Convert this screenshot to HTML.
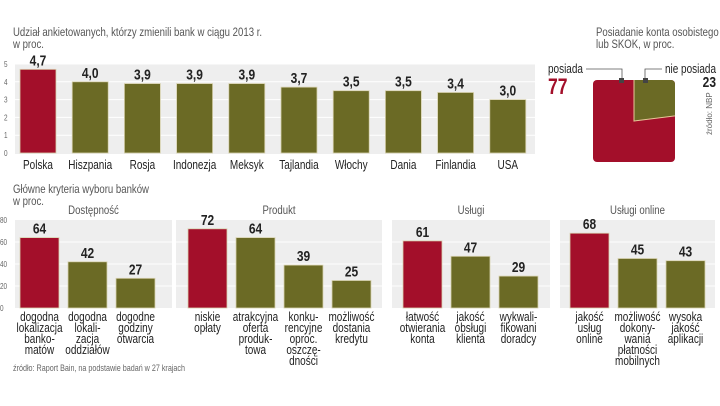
<!DOCTYPE html>
<html><head><meta charset="utf-8"><style>
body{margin:0;background:#fff;width:720px;height:406px;overflow:hidden}
svg{display:block}
text{font-family:"Liberation Sans Narrow","Liberation Sans",sans-serif}
.t{fill:#555;font-size:12px}
.tick{fill:#666;font-size:8px}
.cat{fill:#222;font-size:12.5px}
.val{fill:#222;font-size:15px;font-weight:bold}
</style></head><body>
<svg id="c" width="720" height="406">
<text class="t" x="13" y="36">Udział ankietowanych, którzy zmienili bank w ciągu 2013 r.</text>
<text class="t" x="13" y="48">w proc.</text>
<text class="t" x="596" y="36">Posiadanie konta osobistego w banku</text>
<text class="t" x="596" y="48">lub SKOK, w proc.</text>
<text class="t" x="13" y="193">Główne kryteria wyboru banków</text>
<text class="t" x="13" y="205">w proc.</text>
<text x="13" y="371" style="fill:#666;font-size:9px">źródło: Raport Bain, na podstawie badań w 27 krajach</text>
<text x="712" y="135" transform="rotate(-90 712 135)" style="fill:#666;font-size:8px" class="norot">źródło: NBP</text>
<g id="top"></g><g id="pie"></g><g id="bottom"></g>
</svg>
<script>
const ns='http://www.w3.org/2000/svg';
const RED='#a30f2a',OLIVE='#6b6a25';
function mk(p,tag,a,txt){const e=document.createElementNS(ns,tag);for(const k in a)e.setAttribute(k,a[k]);if(txt!=null)e.textContent=txt;p.appendChild(e);return e;}

const countries=['Polska','Hiszpania','Rosja','Indonezja','Meksyk','Tajlandia','Włochy','Dania','Finlandia','USA'];
const switchRates=[4.7,4.0,3.9,3.9,3.9,3.7,3.5,3.5,3.4,3.0];
const topTicks=[0,1,2,3,4,5];

const pieOwn=77;
const pieNotOwn=23;

const groupTitles=['Dostępność','Produkt','Usługi','Usługi online'];
const groupCats=[
 [['dogodna','lokalizacja','banko-','matów'],['dogodna','lokali-','zacja','oddziałów'],['dogodne','godziny','otwarcia']],
 [['niskie','opłaty'],['atrakcyjna','oferta','produk-','towa'],['konku-','rencyjne','oproc.','oszczę-','dności'],['możliwość','dostania','kredytu']],
 [['łatwość','otwierania','konta'],['jakość','obsługi','klienta'],['wykwali-','fikowani','doradcy']],
 [['jakość','usług','online'],['możliwość','dokony-','wania','płatności','mobilnych'],['wysoka','jakość','aplikacji']]
];
const groupVals=[[64,42,27],[72,64,39,25],[61,47,29],[68,45,43]];
const bottomTicks=[0,20,40,60,80];

// top chart
(function(){
 const g=document.getElementById('top');
 const y0=153,y1=64,ymax=5;const y=v=>y0-(v/ymax)*(y0-y1);
 const x=i=>20+i*52.2;
 const bg=mk(g,'rect',{x:15,y:64,width:520,height:90,fill:'#eeeeee'});
 
 topTicks.forEach(t=>{
  if(t>0){const l=mk(g,'line',{x1:15,x2:535,y1:y(t),y2:y(t),stroke:'#fff','stroke-width':1});
  }
  const tx=mk(g,'text',{x:4,y:y(t)+3,class:'tick'},t);
  
 });
 switchRates.forEach((v,i)=>{
  const r=mk(g,'rect',{x:x(i),y:y(v),width:36,height:y0-y(v),fill:i===0?RED:OLIVE,stroke:'#d8d2b0','stroke-width':0.8});
  
  const vt=mk(g,'text',{x:x(i)+18,y:y(v)-4,class:'val','text-anchor':'middle'},v.toFixed(1).replace('.',','));
  
  const ct=mk(g,'text',{x:x(i)+18,y:169,class:'cat','text-anchor':'middle'},countries[i]);
  
 });
})();

// pie
(function(){
 const g=document.getElementById('pie');
 const X=593,Y=80,S=82,cx=X+S/2,cy=Y+S/2;
 const cp=mk(g,'clipPath',{id:'pc'});mk(cp,'rect',{x:X,y:Y,width:S,height:S,rx:4});
 const b=mk(g,'rect',{x:X,y:Y,width:S,height:S,rx:4,fill:RED});
 
 const a=pieNotOwn/(pieOwn+pieNotOwn)*2*Math.PI,R=100;
 const ex=cx+R*Math.sin(a),ey=cy-R*Math.cos(a);
 const p=mk(g,'path',{d:`M${cx},${cy}L${cx},${cy-R}A${R},${R} 0 ${a>Math.PI?1:0} 1 ${ex},${ey}Z`,fill:OLIVE,stroke:'#e8c89a','stroke-width':1,'clip-path':'url(#pc)'});
 
 mk(g,'path',{d:`M586,69H622V80`,fill:'none',stroke:'#555','stroke-width':0.8});
 mk(g,'path',{d:`M662,69H645V80`,fill:'none',stroke:'#555','stroke-width':0.8});
 mk(g,'rect',{x:619,y:78,width:5,height:5,fill:'#444'});
 mk(g,'rect',{x:643,y:78,width:5,height:5,fill:'#444'});
 const t1=mk(g,'text',{x:548,y:73,class:'cat'},'posiada');
 const v1=mk(g,'text',{x:548,y:94,style:'fill:'+RED+';font-size:22px;font-weight:bold'},pieOwn);
 const t2=mk(g,'text',{x:716,y:73,class:'cat','text-anchor':'end'},'nie posiada');
 const v2=mk(g,'text',{x:716,y:87,class:'val','text-anchor':'end'},pieNotOwn);
})();

// bottom
(function(){
 const g=document.getElementById('bottom');
 const y0=308,y1=220,ymax=80;const y=v=>y0-(v/ymax)*(y0-y1);
 const panels=[[15,172,20],[176,382,188],[392,550,403],[560,715,570]];
 const step=48,bw=39;
 bottomTicks.forEach(t=>{const tx=mk(g,'text',{x:0,y:y(t)+3,class:'tick'},t);
  });
 groupVals.forEach((vals,gi)=>{
  const [px0,px1,bx]=panels[gi];
  const bg=mk(g,'rect',{x:px0,y:y1,width:px1-px0,height:y0-y1,fill:'#eeeeee'});
  
  bottomTicks.forEach(t=>{if(t>0&&t<80){const l=mk(g,'line',{x1:px0,x2:px1,y1:y(t),y2:y(t),stroke:'#fff'});
   }});
  const tt=mk(g,'text',{x:(px0+px1)/2,y:214,class:'t','text-anchor':'middle'},groupTitles[gi]);
  
  vals.forEach((v,i)=>{
   const x=bx+i*step;
   const r=mk(g,'rect',{x:x,y:y(v),width:bw,height:y0-y(v),fill:i===0?RED:OLIVE,stroke:'#d8d2b0','stroke-width':0.8});
   
   const vt=mk(g,'text',{x:x+bw/2,y:y(v)-4,class:'val','text-anchor':'middle'},v);
   
   groupCats[gi][i].forEach((ln,k)=>{
    const ct=mk(g,'text',{x:x+bw/2,y:321+k*11,class:'cat','text-anchor':'middle'},ln);
    
   });
  });
 });
})();

// condense all text horizontally (narrow typeface look)
document.querySelectorAll('text').forEach(t=>{
 if(t.classList.contains('norot'))return;
 const x=+t.getAttribute('x'),y=+t.getAttribute('y');
 t.setAttribute('x',0);t.setAttribute('y',0);
 t.setAttribute('transform',`translate(${x},${y}) scale(0.8,1)`);
});
</script>
</body></html>
